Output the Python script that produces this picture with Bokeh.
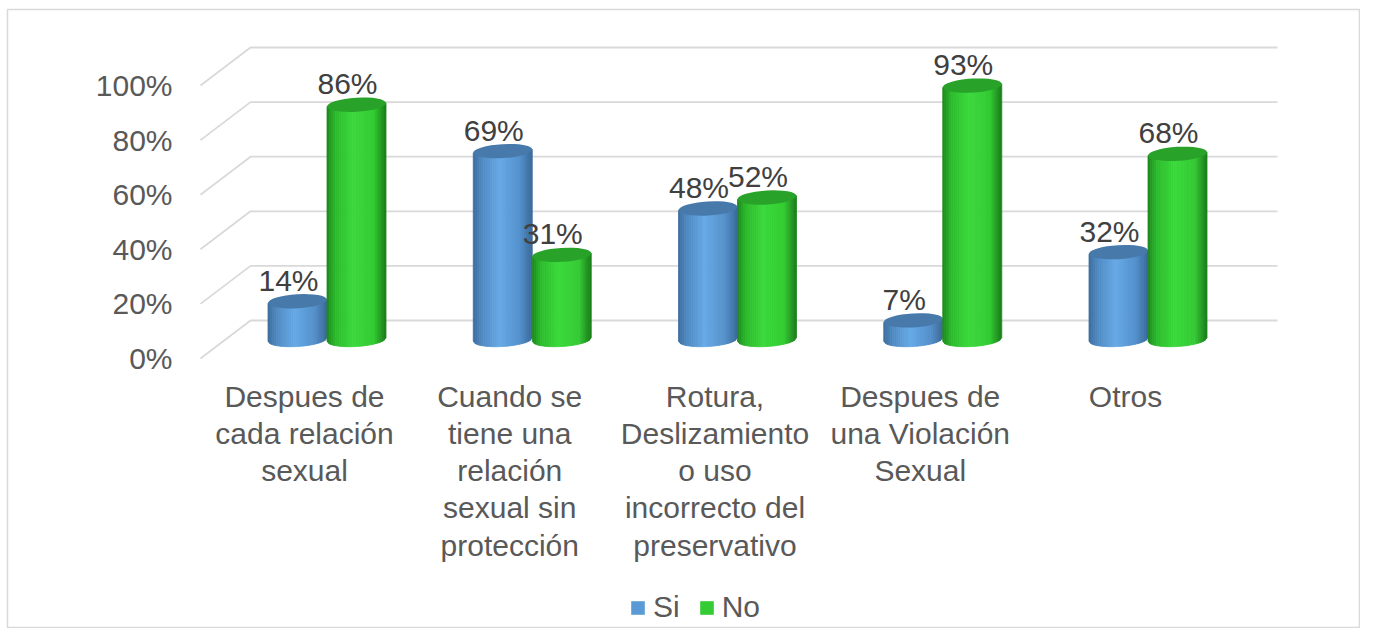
import math
from bokeh.plotting import figure
from bokeh.models import Range1d, Legend, LegendItem, ColumnDataSource
from bokeh.core.properties import value
from bokeh.embed import file_html
from bokeh.resources import INLINE

# ---------------- data ----------------
categories = [
    "Despues de\ncada relación\nsexual",
    "Cuando se\ntiene una\nrelación\nsexual sin\nprotección",
    "Rotura,\nDeslizamiento\no uso\nincorrecto del\npreservativo",
    "Despues de\nuna Violación\nSexual",
    "Otros",
]
si = [14, 69, 48, 7, 32]
no = [86, 31, 52, 93, 68]
series_names = ["Si", "No"]
y_ticks = [0, 20, 40, 60, 80, 100]
y_tick_labels = ["0%", "20%", "40%", "60%", "80%", "100%"]

# ---------------- layout calibration ----------------
W, H = 1360, 628
PX_X = 205.25      # pixels per category
PX_Y = 2.73        # pixels per percent
CX0 = 326          # x of first category centre (px)
BASE = 339         # y of bar baseline (px)
FL, FT = 7, 9      # frame left / top
x0 = (FL - CX0) / PX_X
x1 = (W - CX0) / PX_X
y1 = (BASE - FT) / PX_Y
y0 = (BASE - H) / PX_Y
DEPTH = 19 / PX_Y
FONT = value("Liberation Sans")
FS = "30px"

p = figure(width=W, height=H, x_range=Range1d(x0, x1), y_range=Range1d(y0, y1),
           output_backend="svg", toolbar_location=None,
           x_axis_location=None, y_axis_location=None,
           min_border_left=FL, min_border_right=0, min_border_top=FT, min_border_bottom=0,
           outline_line_color="#D9D9D9", outline_line_width=1.5,
           background_fill_color="white", border_fill_color="white")
p.xgrid.visible = False
p.ygrid.visible = False

# ---------------- 3D walls (grid) ----------------
XB0 = (250 - CX0) / PX_X
XB1 = (1277 - CX0) / PX_X
XF = (200 - CX0) / PX_X
gx, gy = [], []
for t in y_ticks:
    gx.append([XF, XB0, XB1])
    gy.append([t - DEPTH, t + DEPTH, t + DEPTH])
p.multi_line(xs=gx, ys=gy, line_color="#D9D9D9", line_width=1.8)

# value-axis labels on the front edge
p.text(x=[(172 - CX0) / PX_X] * len(y_ticks), y=[t - DEPTH for t in y_ticks], text=y_tick_labels,
       text_font=FONT, text_font_size=FS, text_color="#595959",
       text_align="right", text_baseline="middle")

# ---------------- cylinders ----------------
def hex2rgb(h):
    h = h.lstrip("#")
    return tuple(int(h[i:i + 2], 16) for i in (0, 2, 4))

def grad(stops, t):
    for (t0, c0), (t1, c1) in zip(stops, stops[1:]):
        if t0 <= t <= t1:
            f = (t - t0) / (t1 - t0) if t1 > t0 else 0
            a, b = hex2rgb(c0), hex2rgb(c1)
            return "#%02x%02x%02x" % tuple(round(a[i] + (b[i] - a[i]) * f) for i in range(3))
    return stops[-1][1]

styles = {
    "Si": dict(off=-29, stops=[(0, "#3C6C9C"), (0.15, "#508AC2"), (0.45, "#66A9E6"),
                               (0.8, "#5390CB"), (1.0, "#3A6898")], top="#4779AB", sw="#5B9BD5"),
    "No": dict(off=30, stops=[(0, "#1C861C"), (0.15, "#2DBB2D"), (0.45, "#3BD93B"),
                              (0.8, "#33CB33"), (1.0, "#1A7C1A")], top="#29A229", sw="#33CC33"),
}
A = 29.5     # half width px
B = 7.0      # half ellipse height px
TH = 0.06    # tilt
N = 28

legend_items = []
for name, vals in zip(series_names, [si, no]):
    st = styles[name]
    xs, ys, cols = [], [], []
    cxs = []
    for i, v in enumerate(vals):
        cx = i + st["off"] / PX_X
        cxs.append(cx)
        for k in range(N):
            u0 = -1 + 2 * k / N
            u1 = -1 + 2 * (k + 1) / N
            col = grad(st["stops"], (k + 0.5) / N)
            xa = cx + u0 * A / PX_X
            xb = cx + u1 * A / PX_X
            ya = (-B * math.sqrt(max(0, 1 - u0 * u0)) + u0 * A * math.sin(TH)) / PX_Y
            yb = (-B * math.sqrt(max(0, 1 - u1 * u1)) + u1 * A * math.sin(TH)) / PX_Y
            ta = v + u0 * A * math.sin(TH) / PX_Y
            tb = v + u1 * A * math.sin(TH) / PX_Y
            xs.append([xa, xb, xb, xa])
            ys.append([ya, yb, tb, ta])
            cols.append(col)
    src = ColumnDataSource(dict(xs=xs, ys=ys, c=cols))
    p.patches(xs="xs", ys="ys", source=src, fill_color="c", line_color="c", line_width=0.8)
    p.ellipse(x=cxs, y=vals, width=2 * A / PX_X, height=2 * B / PX_Y, angle=TH,
              fill_color=st["top"], line_color=None)
    p.text(x=[c - 9 / PX_X for c in cxs], y=[v + 21 / PX_Y for v in vals], text=[f"{v}%" for v in vals],
           text_font=FONT, text_font_size=FS, text_color="#404040",
           text_align="center", text_baseline="alphabetic")
    r = p.rect(x=[float("nan")], y=[float("nan")], width=1, height=1,
               fill_color=st["sw"], line_color=None)
    legend_items.append(LegendItem(label=name, renderers=[r]))

# ---------------- category labels ----------------
p.text(x=[i - 22 / PX_X for i in range(len(categories))], y=[(BASE - 379) / PX_Y] * len(categories),
       text=categories, text_font=FONT, text_font_size=FS, text_color="#595959",
       text_align="center", text_baseline="top", text_line_height=1.13)

legend = Legend(items=legend_items, orientation="horizontal", location=(622, 4),
                glyph_width=17, glyph_height=17, label_standoff=7, spacing=18,
                padding=0, margin=0, border_line_color=None, background_fill_alpha=0,
                label_text_font="Liberation Sans", label_text_font_size=FS,
                label_text_color="#595959")
p.add_layout(legend)

open("out.html", "w").write(file_html(p, INLINE))
